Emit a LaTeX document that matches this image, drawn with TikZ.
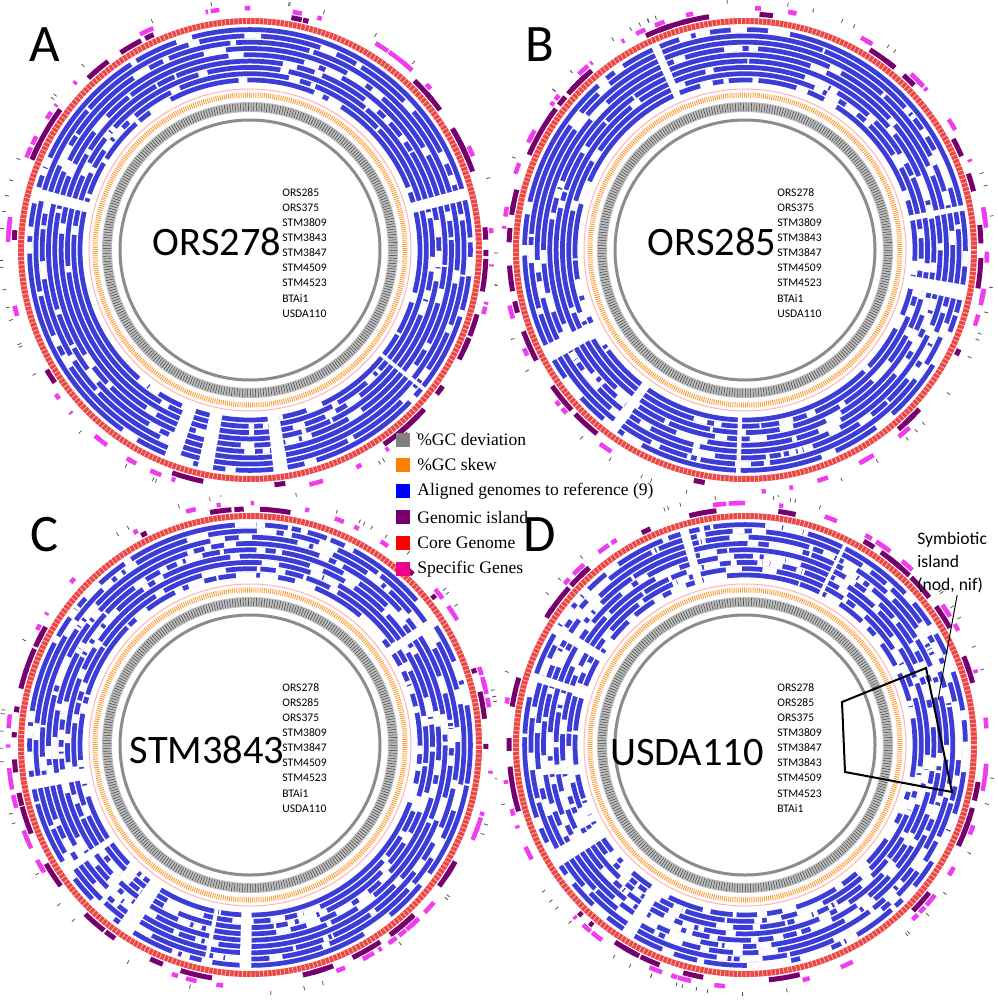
\documentclass[tikz,border=0pt]{standalone}
\usepackage{fontspec}
\setmainfont{Liberation Serif}
\newfontfamily\calfont{Carlito}
\definecolor{trackblue}{RGB}{60,60,215}
\definecolor{gpurple}{RGB}{120,0,110}
\definecolor{gred}{RGB}{235,70,70}
\definecolor{gpink}{RGB}{240,60,240}
\newcommand\gpanel[6]{%
\begin{scope}[shift={(#1,#2)}]
\pgfmathsetseed{#5}
\fill[white] (0,0) circle[radius=250];
\draw[black!45, line width=0.6mm] (0,0) circle[radius=130];
\draw[black!25, line width=2mm] (0,0) circle[radius=143];
\draw[black!75, line width=1.6mm, dash pattern=on 0.3pt off 1.2pt] (0,0) circle[radius=143];
\draw[orange!80, line width=1mm, dash pattern=on 0.5pt off 0.7pt] (0,0) circle[radius=155];
\draw[red!30, line width=0.2mm] (0,0) circle[radius=161];
\foreach \i in {0,...,8}{
  \pgfmathsetmacro\r{170+\i*6.3}
  \draw[trackblue, line width=0.95mm] (0,0) circle[radius=\r];
  \foreach \k in {1,...,#6}{
    \pgfmathsetmacro\a{rnd*360}\pgfmathsetmacro\l{0.5+rnd*5}
    \draw[white, line width=1.1mm] (\a:\r) arc[start angle=\a, delta angle=\l, radius=\r];
  }
}
\foreach \k in {1,...,6}{
  \pgfmathsetmacro\a{rnd*360}\pgfmathsetmacro\l{1+rnd*4}
  \draw[white, line width=12mm] (\a:195) arc[start angle=\a, delta angle=\l, radius=195];
}
\draw[gred, line width=1.2mm] (0,0) circle[radius=229];
\draw[red!25, line width=1.2mm, dash pattern=on 0.4pt off 2pt] (0,0) circle[radius=229];
\foreach \k in {1,...,30}{
  \pgfmathsetmacro\a{rnd*360}\pgfmathsetmacro\l{1+rnd*7}
  \draw[gpurple, line width=1mm] (\a:236) arc[start angle=\a, delta angle=\l, radius=236];
}
\foreach \k in {1,...,45}{
  \pgfmathsetmacro\a{rnd*360}\pgfmathsetmacro\l{0.5+rnd*3}
  \draw[gpink, line width=0.9mm] (\a:242) arc[start angle=\a, delta angle=\l, radius=242];
}
\foreach \k in {1,...,40}{
  \pgfmathsetmacro\a{rnd*360}
  \draw[black!70, line width=0.15mm] (\a:247) -- (\a:251);
}
#3
\node[align=left, anchor=north west, font=\calfont\fontsize{6.6}{8.6}\selectfont, inner sep=0] at (32,-62) {#4};
\end{scope}}
\begin{document}
\begin{tikzpicture}[x=0.2mm,y=-0.2mm]
\useasboundingbox (0,0) rectangle (997,1000);
\fill[white] (0,0) rectangle (997,1000);
\tikzset{bigname/.style={font=\calfont\fontsize{23}{23}\selectfont, inner sep=0}}
\gpanel{250}{250}{\node[bigname] (nA) at (-33,-8) {ORS278};}{ORS285\\ORS375\\STM3809\\STM3843\\STM3847\\STM4509\\STM4523\\BTAi1\\USDA110}{11}{18}
\gpanel{745}{250}{\node[bigname] (nB) at (-33,-8) {ORS285};}{ORS278\\ORS375\\STM3809\\STM3843\\STM3847\\STM4509\\STM4523\\BTAi1\\USDA110}{23}{22}
\gpanel{250}{745}{\node[bigname] (nC) at (-43,5) {STM3843};}{ORS278\\ORS285\\ORS375\\STM3809\\STM3847\\STM4509\\STM4523\\BTAi1\\USDA110}{37}{35}
\gpanel{745}{745}{\node[bigname] (nD) at (-58,8) {USDA110};}{ORS278\\ORS285\\ORS375\\STM3809\\STM3847\\STM3843\\STM4509\\STM4523\\BTAi1}{41}{45}
\node[font=\calfont\fontsize{30}{30}\selectfont] (lA) at (45,45) {A};
\node[font=\calfont\fontsize{30}{30}\selectfont] (lB) at (540,45) {B};
\node[font=\calfont\fontsize{30}{30}\selectfont] (lC) at (45,535) {C};
\node[font=\calfont\fontsize{30}{30}\selectfont] (lD) at (540,535) {D};
\tikzset{legsq/.style={minimum size=2.8mm, inner sep=0, draw=none}, legtx/.style={anchor=west, font=\fontsize{10}{10}\selectfont, inner sep=0}}
\node[legsq, fill=gray] (s1) at (403,440) {}; \node[legtx] (t1) at (417,440) {\%GC deviation};
\node[legsq, fill=orange] (s2) at (403,465) {}; \node[legtx] (t2) at (417,465) {\%GC skew};
\node[legsq, fill=blue] (s3) at (403,491) {}; \node[legtx] (t3) at (417,491) {Aligned genomes to reference (9)};
\node[legsq, fill=gpurple] (s4) at (403,517) {}; \node[legtx] (t4) at (417,517) {Genomic island};
\node[legsq, fill=red] (s5) at (403,543) {}; \node[legtx] (t5) at (417,543) {Core Genome};
\node[legsq, fill=magenta] (s6) at (403,569) {}; \node[legtx] (t6) at (417,569) {Specific Genes};
\coordinate (p1) at (842,702);
\coordinate (p2) at (926,668);
\coordinate (p3) at (952,792);
\coordinate (p4) at (845,772);
\draw[black, line width=0.4mm] (p1) -- (p2) -- (p3) -- (p4) -- cycle;
\node[align=left, anchor=north west, font=\calfont\fontsize{10}{13}\selectfont, inner sep=0] (sym) at (917,532) {Symbiotic\\island\\(nod, nif)};
\coordinate (q) at (938,700);
\draw[black, line width=0.2mm] (sym.south) ++(5,2) -- (q);
\end{tikzpicture}
\end{document}
